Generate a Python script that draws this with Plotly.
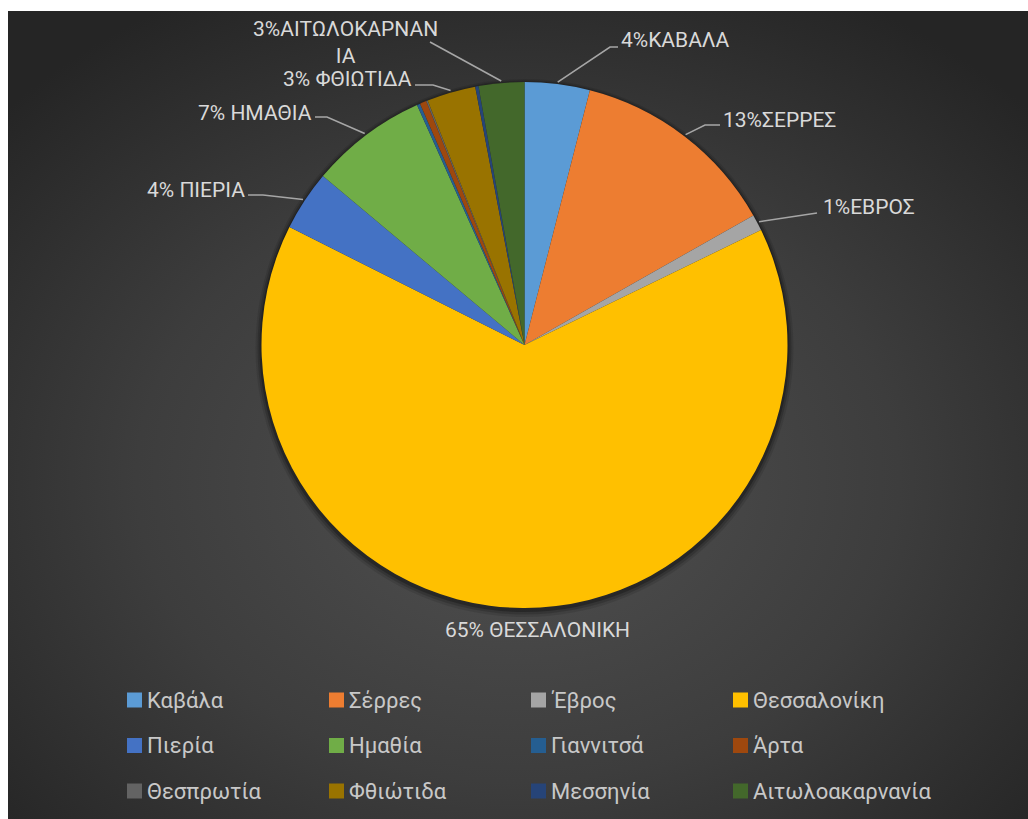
import base64
import math

import plotly.graph_objects as go

# ---- data -------------------------------------------------------------
regions = ["Καβάλα", "Σέρρες", "Έβρος", "Θεσσαλονίκη", "Πιερία", "Ημαθία",
           "Γιαννιτσά", "Άρτα", "Θεσπρωτία", "Φθιώτιδα", "Μεσσηνία",
           "Αιτωλοακαρνανία"]
shares = [4.0, 12.8, 1.0, 64.6, 3.7, 7.2, 0.2, 0.4, 0.1, 3.0, 0.2, 2.8]
colors = ["#5B9BD5", "#ED7D31", "#A5A5A5", "#FFC000", "#4472C4", "#70AD47",
          "#255E91", "#9E480E", "#636363", "#997300", "#264478", "#43682B"]

# data-label captions (index -> separator, upper-case name)
caption_names = {0: ("", "ΚΑΒΑΛΑ"), 1: ("", "ΣΕΡΡΕΣ"), 2: ("", "ΕΒΡΟΣ"),
                 3: (" ", "ΘΕΣΣΑΛΟΝΙΚΗ"), 4: (" ", "ΠΙΕΡΙΑ"),
                 5: (" ", "ΗΜΑΘΙΑ"), 9: (" ", "ΦΘΙΩΤΙΔΑ"),
                 11: ("", "ΑΙΤΩΛΟΚΑΡΝΑΝ<br>ΙΑ")}

# ---- canvas geometry (pixels) ----------------------------------------
W, H = 1028, 819
CX, CY, R = 524.5, 345.0, 263.0


def px(x):
    return x / W


def py(y):
    return 1 - y / H


def rim_point(i, extra=2.0):
    """Point just outside the arc at the middle of slice i (clockwise from 12 o'clock)."""
    total = sum(shares)
    mid = (sum(shares[:i]) + shares[i] / 2) / total
    th = 2 * math.pi * mid
    return CX + (R + extra) * math.sin(th), CY - (R + extra) * math.cos(th)


# label placement: (x, y, anchor) and leader-line bends, in pixels
label_place = {0: (620, 40, "left"), 1: (722, 120, "left"),
               2: (822, 207, "left"), 3: (537, 630, "center"),
               4: (246, 190, "right"), 5: (313, 113, "right"),
               9: (413, 79, "right"), 11: (345, 42, "center")}
leader_bends = {0: [(610, 47), (618, 47)], 1: [(705, 125), (720, 125)],
                2: [(817, 213)], 4: [(263, 195), (248, 195)],
                5: [(327, 117), (315, 117)], 9: [(433, 85), (415, 85)],
                11: [(430, 42)]}

# legend grid: 4 columns x 3 rows under the pie
LEG_COLS = [127, 329, 531, 733]
LEG_ROWS = [700, 745.5, 791]
SWATCH = 15

# ---- background --------------------------------------------------------
bg_svg = (
    '<svg xmlns="http://www.w3.org/2000/svg" width="1020" height="808" '
    'viewBox="0 0 1020 808" preserveAspectRatio="none">'
    '<defs><radialGradient id="g" cx="50%" cy="58%" r="68%">'
    '<stop offset="0" stop-color="#515151"/>'
    '<stop offset="0.55" stop-color="#3d3d3d"/>'
    '<stop offset="1" stop-color="#252525"/>'
    '</radialGradient></defs>'
    '<rect width="1020" height="808" fill="url(#g)"/></svg>'
)
bg_src = "data:image/svg+xml;base64," + base64.b64encode(bg_svg.encode()).decode()

# ---- figure ------------------------------------------------------------
fig = go.Figure(go.Pie(
    labels=regions,
    values=shares,
    sort=False,
    direction="clockwise",
    rotation=0,
    marker=dict(colors=colors, line=dict(width=0)),
    textinfo="none",
    hoverinfo="label+percent",
    showlegend=False,
    domain=dict(x=[px(CX - R), px(CX + R)], y=[py(CY + R), py(CY - R)]),
))

shapes = []
# soft drop shadow under the pie
for grow, dy, alpha in [(6, 3, 0.10), (4, 2.5, 0.16), (2, 2, 0.25)]:
    shapes.append(dict(type="circle", xref="paper", yref="paper", layer="below",
                       x0=px(CX - R - grow), x1=px(CX + R + grow),
                       y0=py(CY + dy + R + grow), y1=py(CY + dy - R - grow),
                       fillcolor=f"rgba(0,0,0,{alpha})", line=dict(width=0)))

annotations = []
for i, (sep, name) in caption_names.items():
    x, y, anchor = label_place[i]
    annotations.append(dict(
        x=px(x), y=py(y), xref="paper", yref="paper", showarrow=False,
        xanchor=anchor, yanchor="middle", align="center", borderpad=0,
        text=f"{round(shares[i])}%{sep}{name}",
        font=dict(family="Roboto", size=21, color="#d9d9d9"),
    ))
    if i in leader_bends:
        pts = [rim_point(i)] + leader_bends[i]
        path = "M " + " L ".join(f"{px(a):.5f},{py(b):.5f}" for a, b in pts)
        shapes.append(dict(type="path", xref="paper", yref="paper", path=path,
                           line=dict(color="#a6a6a6", width=1.6)))

# legend: colour swatch + region name for every slice
for k, (name, col) in enumerate(zip(regions, colors)):
    lx = LEG_COLS[k % 4]
    ly = LEG_ROWS[k // 4]
    shapes.append(dict(type="rect", xref="paper", yref="paper",
                       x0=px(lx), x1=px(lx + SWATCH),
                       y0=py(ly + SWATCH / 2), y1=py(ly - SWATCH / 2),
                       fillcolor=col, line=dict(width=0)))
    annotations.append(dict(
        x=px(lx + SWATCH + 3), y=py(ly), xref="paper", yref="paper",
        showarrow=False, xanchor="left", yanchor="middle", text=name,
        font=dict(family="Roboto", size=22, color="#c8c8c8"),
    ))

fig.update_layout(
    width=W, height=H,
    margin=dict(l=0, r=0, t=0, b=0),
    paper_bgcolor="white",
    plot_bgcolor="rgba(0,0,0,0)",
    images=[dict(source=bg_src, xref="paper", yref="paper",
                 x=px(8), y=py(11), sizex=px(W) - px(8), sizey=py(11) - py(H),
                 xanchor="left", yanchor="top", sizing="stretch", layer="below")],
    shapes=shapes,
    annotations=annotations,
    showlegend=False,
)

fig.write_html("out.html")
